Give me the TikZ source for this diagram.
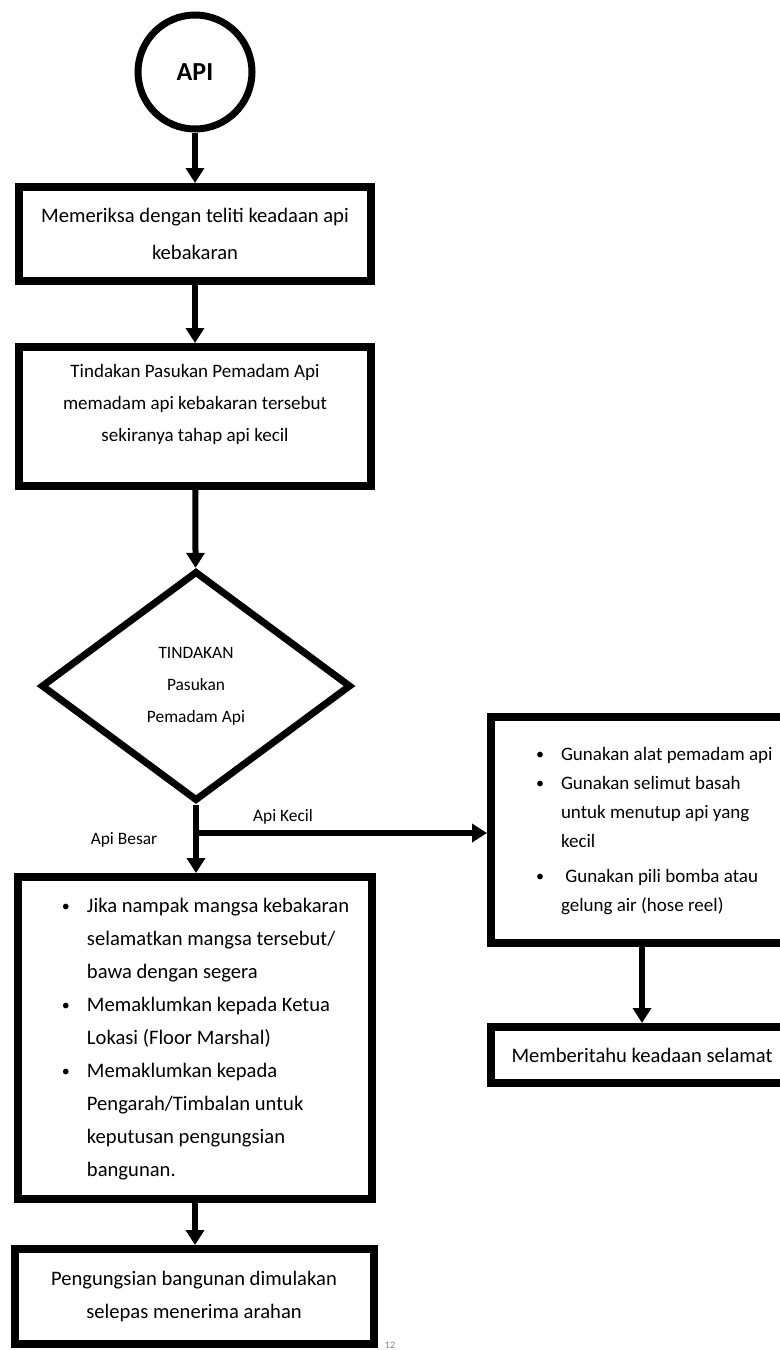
\documentclass[tikz,border=0pt]{standalone}
\usepackage{fontspec}
\setmainfont{Carlito}
\usetikzlibrary{shapes.geometric,arrows.meta}

\newcommand{\butir}{\raisebox{0.1ex}{\fontsize{8}{8}\selectfont\textbullet}}

\begin{document}
\begin{tikzpicture}[
			x=0.5pt,
			y=-0.5pt,
			box/.style={
					draw,
					line width=4pt,
					inner sep=0pt,
					align=center,
					minimum width=176pt
				},
			decision/.style={
					draw,
					diamond,
					line width=3.5pt,
					inner sep=0pt,
					align=center,
					minimum width=155pt,
					minimum height=115pt,
					font=\fontsize{8.7}{16}\selectfont
				},
			start/.style={
					draw,
					circle,
					line width=3.5pt,
					minimum size=57pt,
					font=\fontsize{13}{15}\selectfont\bfseries
				},
			lbl/.style={
					inner sep=0pt,
					font=\fontsize{8.7}{10}\selectfont
				},
			flow/.style={
					-{Triangle[length=7.5pt,width=9pt]},
					line width=3pt
				}
		]
		\useasboundingbox (0,0) rectangle (780,1350);

		\node (api) [start] at (195,72) {API};

		\node (periksa) [box,
			minimum height=47pt,
			font=\fontsize{10.3}{18.5}\selectfont] at (195,234)
		{Memeriksa dengan teliti keadaan api\\kebakaran};

		\node (tindakan) [box,
			minimum height=69.5pt,
			font=\fontsize{9.5}{16}\selectfont] at (195,416.5)
		{Tindakan Pasukan Pemadam Api\\memadam api kebakaran tersebut\\sekiranya tahap api kecil\\[-2pt]\mbox{}};

		\node (keputusan) [decision] at (196,686)
		{TINDAKAN\\Pasukan\\Pemadam Api};

		\coordinate (cabang) at (196,833);

		\node (besar) [box,
			minimum width=177pt,
			minimum height=161pt,
			font=\fontsize{10.3}{16.5}\selectfont] at (195,1038)
		{\begin{tabular}{@{\hspace{22pt}}p{12.5pt}@{}p{142.5pt}@{}}
				\butir & Jika nampak mangsa kebakaran \\
				       & selamatkan mangsa tersebut/  \\
				       & bawa dengan segera           \\
				\butir & Memaklumkan kepada Ketua     \\
				       & Lokasi (Floor Marshal)       \\
				\butir & Memaklumkan kepada           \\
				       & Pengarah/Timbalan untuk      \\
				       & keputusan pengungsian        \\
				       & bangunan.
			\end{tabular}};

		\node (kecil) [box,
			minimum width=151pt,
			minimum height=113pt,
			font=\fontsize{9.5}{14.5}\selectfont] at (642,830)
		{\begin{tabular}{@{\hspace{22.5pt}}p{12.5pt}@{}p{116pt}@{}}
				\butir & Gunakan alat pemadam api   \\
				\butir & Gunakan selimut basah      \\
				       & untuk menutup api yang     \\
				       & kecil                      \\[3pt]
				\butir & \ Gunakan pili bomba atau \\
				       & gelung air (hose reel)
			\end{tabular}};

		\node (selamat) [box,
			minimum width=151pt,
			minimum height=28pt,
			font=\fontsize{10.3}{12}\selectfont] at (642,1055)
		{Memberitahu keadaan selamat};

		\node (pindah) [box,
			minimum width=179.5pt,
			minimum height=47.5pt,
			font=\fontsize{10.3}{16.5}\selectfont] at (194,1296.5)
		{Pengungsian bangunan dimulakan\\selepas menerima arahan};

		\node (lblkecil) [lbl] at (283,817) {Api Kecil};
		\node (lblbesar) [lbl] at (124,840) {Api Besar};

		\node (halaman) [lbl, text=gray, font=\fontsize{5}{6}\selectfont] at (390,1345) {12};

		\draw[flow] (api) -- (periksa);
		\draw[flow] (periksa) -- (tindakan);
		\draw[flow] (tindakan) -- (keputusan);
		\draw[line width=3pt] (keputusan.south) -- (cabang);
		\draw[flow] (cabang) -- (cabang |- besar.north);
		\draw[flow] (cabang) -- (cabang -| kecil.west);
		\draw[flow] (kecil) -- (selamat);
		\draw[flow] (besar) -- (besar |- pindah.north);

	\end{tikzpicture}
\end{document}
